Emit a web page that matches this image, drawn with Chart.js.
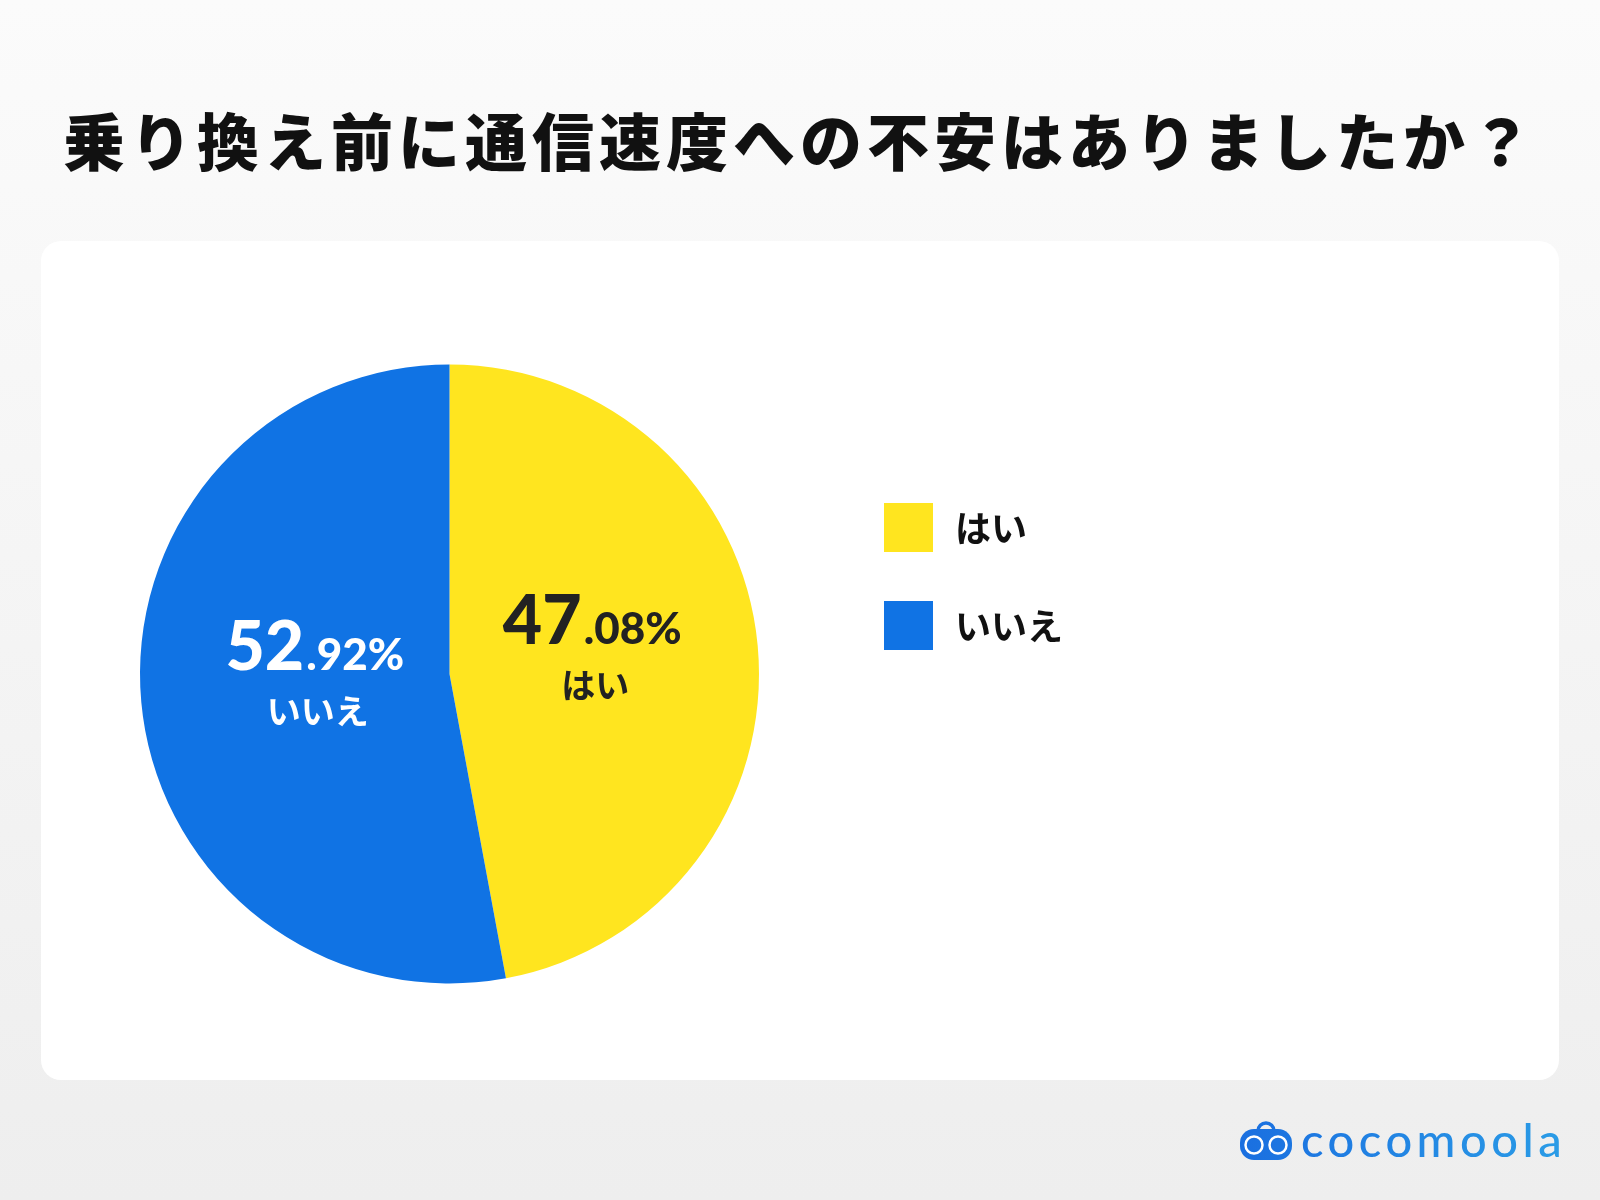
<!DOCTYPE html>
<html>
<head>
<meta charset="utf-8">
<script src="https://cdn.jsdelivr.net/npm/chart.js@4.4.1/dist/chart.umd.min.js"></script>
<style>
  html, body { margin: 0; padding: 0; background: #f4f4f4; }
  #wrap { width: 1600px; height: 1200px; }
</style>
</head>
<body>
<div id="wrap"><canvas id="pie" width="1600" height="1200"></canvas></div>
<script>
// データ
var titleText = '乗り換え前に通信速度への不安はありましたか？';
var categories = ['はい', 'いいえ'];
var percents = [47.08, 52.92];
var sliceColors = ['#FFE51F', '#1073E4'];
var labelColors = ['#222222', '#FFFFFF'];
var brandText = 'cocomoola';

var JP = '"Noto Sans CJK JP", "Noto Sans", sans-serif';
var NUM = 'Lato, "Noto Sans", sans-serif';

function roundRect(ctx, x, y, w, h, r){
	ctx.beginPath();
	ctx.moveTo(x + r, y);
	ctx.arcTo(x + w, y, x + w, y + h, r);
	ctx.arcTo(x + w, y + h, x, y + h, r);
	ctx.arcTo(x, y + h, x, y, r);
	ctx.arcTo(x, y, x + w, y, r);
	ctx.closePath();
}

/*Fondo, tarjeta y título*/
var backdrop = {
	id: 'backdrop',
	beforeDraw: function(chart){
		var ctx = chart.ctx, grad;
		ctx.save();
		grad = ctx.createLinearGradient(0, 0, 0, 1200);
		grad.addColorStop(0, '#fbfbfb');
		grad.addColorStop(1, '#eeeeee');
		ctx.fillStyle = grad;
		ctx.fillRect(0, 0, 1600, 1200);
		ctx.fillStyle = '#ffffff';
		roundRect(ctx, 41, 241, 1518, 839, 20);
		ctx.fill();
		ctx.fillStyle = '#111111';
		ctx.font = '900 62px ' + JP;
		ctx.letterSpacing = '5px';
		ctx.textAlign = 'center';
		ctx.textBaseline = 'middle';
		ctx.fillText(titleText, 800, 142);
		ctx.restore();
	}
};

/*Etiquetas dentro del pie, leyenda y logo*/
var overlay = {
	id: 'overlay',
	afterDatasetsDraw: function(chart){
		var ctx = chart.ctx, meta = chart.getDatasetMeta(0), i, arc, mid, r, px, py,
			whole, frac, str, wBig, wSmall, x0;
		ctx.save();
		for(i = 0; i < meta.data.length; i++){
			arc = meta.data[i];
			mid = (arc.startAngle + arc.endAngle) / 2;
			r = arc.outerRadius * 0.45;
			px = arc.x + Math.cos(mid) * r + 4;
			py = arc.y + Math.sin(mid) * r;
			str = percents[i].toFixed(2);
			whole = str.split('.')[0];
			frac = '.' + str.split('.')[1] + '%';
			ctx.fillStyle = labelColors[i];
			ctx.textBaseline = 'alphabetic';
			ctx.textAlign = 'left';
			ctx.font = '900 68px ' + NUM;
			wBig = ctx.measureText(whole).width;
			ctx.font = '900 44px ' + NUM;
			wSmall = ctx.measureText(frac).width;
			x0 = px - (wBig + wSmall + 2) / 2;
			ctx.font = '900 68px ' + NUM;
			ctx.fillText(whole, x0, py - 17);
			ctx.font = '900 44px ' + NUM;
			ctx.fillText(frac, x0 + wBig + 2, py - 17);
			ctx.font = 'bold 34px ' + JP;
			ctx.textAlign = 'center';
			ctx.textBaseline = 'middle';
			ctx.fillText(categories[i], px + 3, py + 24);
		}

		// leyenda
		ctx.textAlign = 'left';
		ctx.textBaseline = 'middle';
		ctx.font = 'bold 36px ' + JP;
		for(i = 0; i < categories.length; i++){
			ctx.fillStyle = sliceColors[i];
			ctx.fillRect(884, 503 + i * 98, 49, 49);
			ctx.fillStyle = '#111111';
			ctx.fillText(categories[i], 955, 528 + i * 98);
		}

		// logo
		var g = ctx.createLinearGradient(1240, 0, 1560, 0);
		g.addColorStop(0, '#1a6fe0');
		g.addColorStop(1, '#2a9be6');
		ctx.fillStyle = g;
		ctx.strokeStyle = g;
		ctx.lineWidth = 3.5;
		ctx.beginPath();
		ctx.arc(1266, 1131, 8, Math.PI, 0);
		ctx.stroke();
		roundRect(ctx, 1240, 1129, 52, 31, 14);
		ctx.fill();
		ctx.strokeStyle = '#ffffff';
		ctx.lineWidth = 2.5;
		ctx.beginPath();
		ctx.arc(1254, 1145, 8.5, 0, Math.PI * 2);
		ctx.stroke();
		ctx.beginPath();
		ctx.arc(1278, 1145, 8.5, 0, Math.PI * 2);
		ctx.stroke();
		ctx.fillStyle = g;
		ctx.font = '500 47px ' + NUM;
		ctx.letterSpacing = '4.5px';
		ctx.textBaseline = 'alphabetic';
		ctx.fillText(brandText, 1301, 1157);
		ctx.restore();
	}
};

new Chart(document.getElementById('pie'), {
	type: 'pie',
	data: {
		labels: categories,
		datasets: [{
			data: percents,
			backgroundColor: sliceColors,
			borderWidth: 0
		}]
	},
	options: {
		responsive: false,
		animation: false,
		layout: { padding: { left: 140, top: 364, right: 841, bottom: 216 } },
		plugins: {
			legend: { display: false },
			tooltip: { enabled: false }
		}
	},
	plugins: [backdrop, overlay]
});
</script>
</body>
</html>
